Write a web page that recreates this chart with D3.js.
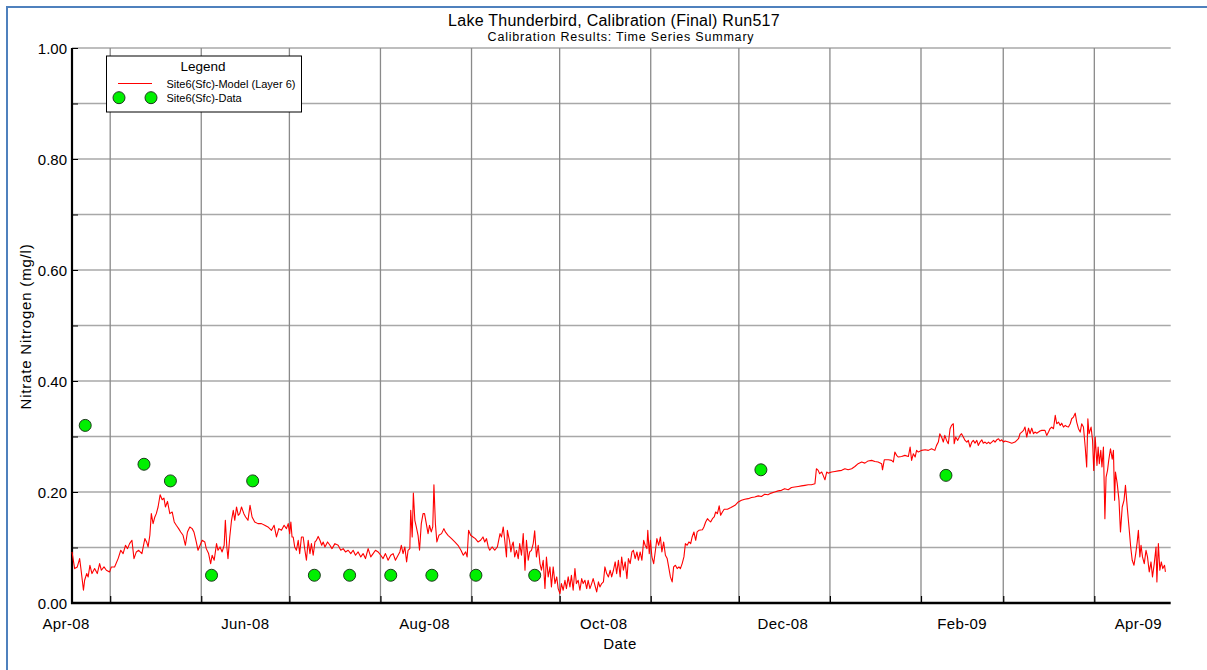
<!DOCTYPE html>
<html>
<head>
<meta charset="utf-8">
<script src="https://cdn.jsdelivr.net/npm/d3@7"></script>
<style>
  html, body { margin: 0; padding: 0; background: #fff; overflow: hidden; }
  svg { display: block; }
  text { font-family: "Liberation Sans", Arial, sans-serif; fill: #000; }
</style>
</head>
<body>
<svg id="chart" width="1207" height="670"></svg>
<script>
// ---- Chart text ----
const chartTitle = "Lake Thunderbird, Calibration (Final) Run517";
const chartSubtitle = "Calibration Results: Time Series Summary";
const xAxisTitle = "Date";
const yAxisTitle = "Nitrate Nitrogen (mg/l)";
const legendTitle = "Legend";
const seriesNames = ["Site6(Sfc)-Model (Layer 6)", "Site6(Sfc)-Data"];

// ---- Axes ----
const dateRange = ["2008-04-18 00:00", "2009-04-27 00:00"];
const xTickLabelDates = ["2008-04-16 00:00", "2008-06-16 00:00", "2008-08-16 00:00", "2008-10-16 00:00",
                         "2008-12-16 00:00", "2009-02-15 00:00", "2009-04-16 00:00"];
const yLabelTicks = [0, 0.2, 0.4, 0.6, 0.8, 1.0];
const yGridTicks = [0.1, 0.2, 0.3, 0.4, 0.5, 0.6, 0.7, 0.8, 0.9, 1.0];
const yDomain = [0, 1];

// ---- Model output: [days since modelStart, nitrate mg/l] ----
const modelStart = "2008-04-18 00:00";
const modelSeries = [
  [0,0.092],[0.9,0.062],[1.8,0.065],[2.6,0.080],[3.1,0.059],[3.9,0.023],[4.3,0.041],[5.0,0.053],
  [5.5,0.047],[6.1,0.068],[6.8,0.053],[7.7,0.062],[8.6,0.053],[9.4,0.071],[10.0,0.059],[10.9,0.065],
  [11.7,0.059],[12.8,0.056],[13.4,0.065],[14.5,0.065],[15.7,0.080],[16.6,0.095],[17.4,0.089],[18.2,0.104],
  [18.9,0.098],[19.6,0.107],[20.4,0.113],[21.1,0.080],[21.9,0.092],[22.7,0.095],[23.8,0.089],[24.8,0.116],
  [25.4,0.110],[25.9,0.101],[26.5,0.122],[27.0,0.161],[27.6,0.143],[28.2,0.155],[28.7,0.161],[29.3,0.173],
  [30.0,0.195],[30.7,0.186],[31.3,0.189],[31.8,0.173],[32.5,0.183],[33.3,0.161],[34.1,0.164],[34.8,0.146],
  [35.5,0.140],[36.3,0.134],[37.0,0.128],[37.8,0.122],[38.6,0.104],[39.3,0.128],[40.1,0.137],[40.9,0.134],
  [41.5,0.128],[42.3,0.110],[42.9,0.095],[43.6,0.104],[44.3,0.113],[45.2,0.110],[45.7,0.098],[46.5,0.089],
  [47.2,0.071],[47.7,0.086],[48.4,0.077],[49.2,0.107],[49.7,0.095],[50.4,0.101],[51.1,0.092],[51.8,0.104],
  [52.2,0.149],[52.7,0.101],[53.1,0.080],[53.7,0.119],[54.3,0.149],[54.9,0.167],[55.4,0.149],[56.0,0.173],
  [56.6,0.158],[57.1,0.161],[57.7,0.173],[58.5,0.161],[59.1,0.155],[59.9,0.149],[60.6,0.176],[61.3,0.155],
  [62.2,0.146],[63.3,0.143],[64.5,0.143],[65.6,0.140],[66.7,0.137],[67.9,0.131],[68.8,0.140],[69.6,0.119],
  [70.4,0.134],[71.3,0.131],[72.2,0.140],[73.0,0.134],[73.6,0.143],[74.1,0.125],[74.5,0.146],[74.9,0.119],
  [75.3,0.119],[75.8,0.101],[76.4,0.095],[77.0,0.113],[77.5,0.089],[78.1,0.119],[78.7,0.119],[79.2,0.098],
  [79.8,0.077],[80.4,0.113],[81.0,0.089],[81.5,0.107],[82.1,0.086],[82.7,0.110],[83.2,0.113],[83.8,0.120],
  [84.4,0.113],[85.0,0.104],[85.5,0.110],[86.1,0.101],[87.0,0.110],[87.8,0.104],[88.5,0.098],[89.5,0.107],
  [90.6,0.104],[91.5,0.095],[92.3,0.098],[93.1,0.092],[94.0,0.095],[94.9,0.089],[95.7,0.095],[96.5,0.086],
  [97.4,0.092],[98.3,0.083],[99.1,0.089],[99.9,0.080],[100.8,0.098],[101.7,0.083],[102.5,0.089],[103.3,0.095],
  [104.2,0.092],[105.1,0.086],[105.9,0.080],[106.7,0.089],[107.6,0.077],[108.5,0.086],[109.3,0.089],[110.1,0.077],
  [111.0,0.086],[111.6,0.092],[112.1,0.104],[112.7,0.089],[113.3,0.101],[113.9,0.074],[114.4,0.095],[115.0,0.098],
  [115.3,0.167],[115.8,0.119],[116.2,0.198],[116.7,0.149],[117.2,0.137],[117.8,0.122],[118.3,0.095],[118.9,0.143],
  [119.5,0.161],[120.0,0.161],[120.6,0.143],[121.2,0.125],[121.7,0.140],[122.3,0.128],[122.8,0.137],[123.2,0.213],
  [123.7,0.143],[124.2,0.110],[124.9,0.122],[125.8,0.125],[126.6,0.134],[127.1,0.128],[128.0,0.122],[129.2,0.116],
  [130.3,0.110],[131.4,0.104],[132.4,0.095],[133.2,0.086],[134.0,0.092],[134.5,0.083],[135.0,0.131],[135.7,0.122],
  [136.5,0.119],[137.3,0.116],[138.2,0.110],[139.1,0.113],[139.9,0.119],[140.5,0.110],[141.1,0.116],[141.7,0.101],
  [142.2,0.095],[143.0,0.101],[143.9,0.095],[144.8,0.101],[145.7,0.125],[146.2,0.119],[146.8,0.137],[147.3,0.113],
  [147.9,0.083],[148.2,0.131],[148.9,0.113],[149.4,0.092],[149.8,0.104],[150.2,0.110],[150.7,0.083],[151.3,0.095],
  [151.9,0.080],[152.4,0.107],[153.0,0.086],[153.6,0.125],[154.2,0.059],[154.7,0.113],[155.3,0.077],[155.8,0.092],
  [156.4,0.095],[157.0,0.107],[157.5,0.130],[158.1,0.083],[158.7,0.104],[159.3,0.071],[159.8,0.059],[160.4,0.077],
  [161.0,0.026],[161.5,0.083],[162.1,0.047],[162.7,0.065],[163.2,0.029],[163.8,0.065],[164.4,0.035],[165.0,0.047],
  [165.5,0.026],[166.1,0.017],[166.6,0.035],[167.2,0.023],[167.8,0.041],[168.3,0.026],[168.9,0.047],[169.5,0.029],
  [170.0,0.050],[170.6,0.023],[171.2,0.062],[171.7,0.035],[172.3,0.041],[172.9,0.023],[173.5,0.044],[174.0,0.035],
  [174.6,0.041],[175.2,0.026],[175.7,0.041],[176.3,0.026],[176.9,0.035],[177.4,0.044],[178.0,0.032],[178.6,0.020],
  [179.2,0.038],[179.7,0.029],[180.3,0.035],[180.9,0.038],[181.4,0.065],[182.0,0.053],[182.6,0.047],[183.2,0.059],
  [183.7,0.047],[184.3,0.059],[184.9,0.074],[185.4,0.053],[186.0,0.077],[186.6,0.047],[187.1,0.083],[187.7,0.059],
  [188.3,0.074],[188.9,0.044],[189.4,0.080],[190.0,0.071],[190.6,0.092],[191.1,0.095],[191.7,0.080],[192.3,0.092],
  [192.8,0.077],[193.4,0.092],[194.0,0.077],[194.6,0.113],[195.1,0.104],[195.7,0.098],[196.0,0.131],[196.5,0.089],
  [196.9,0.113],[197.4,0.083],[198.0,0.071],[198.6,0.095],[199.1,0.116],[199.7,0.104],[200.3,0.119],[200.8,0.092],
  [201.4,0.110],[202.0,0.086],[202.6,0.080],[203.1,0.065],[203.7,0.047],[204.3,0.038],[204.8,0.065],[205.4,0.068],
  [206.0,0.062],[206.6,0.065],[207.1,0.062],[207.7,0.071],[208.3,0.083],[208.8,0.107],[209.4,0.104],[210.0,0.110],
  [210.6,0.107],[211.1,0.119],[211.7,0.128],[212.3,0.113],[212.8,0.128],[213.4,0.131],[214.6,0.132],[215.1,0.137],
  [215.7,0.146],[216.3,0.152],[216.8,0.149],[217.4,0.146],[218.0,0.152],[218.6,0.155],[219.1,0.164],[219.7,0.161],
  [220.3,0.175],[220.8,0.158],[221.4,0.164],[222.0,0.169],[223.1,0.169],[224.3,0.172],[225.7,0.176],[226.8,0.182],
  [227.9,0.185],[229.0,0.187],[230.2,0.188],[231.3,0.190],[232.4,0.191],[233.6,0.193],[234.7,0.192],[235.8,0.196],
  [236.9,0.195],[238.0,0.198],[239.2,0.200],[240.4,0.202],[241.5,0.203],[242.6,0.206],[243.8,0.204],[244.9,0.208],
  [246.0,0.209],[247.2,0.210],[248.3,0.211],[249.5,0.212],[250.6,0.213],[251.7,0.213],[252.9,0.215],[253.4,0.242],
  [254.0,0.239],[254.5,0.233],[255.2,0.236],[255.7,0.230],[256.3,0.222],[256.9,0.236],[257.4,0.234],[258.6,0.236],
  [259.7,0.237],[260.8,0.238],[262.0,0.239],[263.1,0.242],[264.2,0.240],[265.4,0.242],[266.5,0.246],[267.6,0.251],
  [268.8,0.254],[269.9,0.252],[271.0,0.256],[272.2,0.257],[273.3,0.255],[274.4,0.254],[275.6,0.251],[275.9,0.240],
  [276.5,0.258],[277.9,0.258],[279.0,0.257],[279.6,0.254],[280.1,0.272],[280.7,0.266],[281.3,0.263],[282.4,0.264],
  [283.5,0.266],[284.7,0.264],[285.3,0.281],[285.8,0.257],[286.4,0.269],[287.0,0.263],[287.5,0.275],[288.1,0.272],
  [289.2,0.275],[290.4,0.276],[291.5,0.275],[292.6,0.278],[293.7,0.275],[294.3,0.284],[294.9,0.290],[295.4,0.305],
  [296.0,0.299],[296.6,0.290],[297.1,0.302],[297.7,0.293],[298.3,0.287],[298.9,0.314],[299.4,0.320],[300.0,0.323],
  [300.3,0.287],[300.8,0.299],[301.5,0.293],[302.3,0.302],[302.8,0.305],[303.4,0.299],[304.0,0.293],[304.6,0.290],
  [305.1,0.293],[305.7,0.281],[306.3,0.290],[306.8,0.293],[307.4,0.288],[308.0,0.293],[308.5,0.284],[309.1,0.290],
  [309.7,0.294],[310.2,0.288],[310.8,0.290],[311.4,0.287],[312.0,0.290],[312.5,0.287],[313.1,0.290],[313.7,0.293],
  [314.2,0.290],[314.8,0.294],[315.4,0.296],[315.9,0.292],[316.5,0.294],[317.1,0.290],[317.6,0.292],[318.8,0.290],
  [319.9,0.288],[321.0,0.290],[321.6,0.293],[322.2,0.296],[322.7,0.305],[323.3,0.308],[323.9,0.311],[324.4,0.317],
  [325.0,0.299],[325.6,0.315],[326.1,0.305],[326.7,0.315],[327.3,0.305],[327.8,0.308],[328.4,0.306],[329.0,0.308],
  [329.5,0.310],[330.1,0.311],[330.7,0.311],[331.2,0.311],[331.8,0.302],[332.4,0.308],[332.9,0.314],[333.5,0.317],
  [334.1,0.314],[334.7,0.338],[335.2,0.323],[335.8,0.326],[336.4,0.320],[336.9,0.324],[337.5,0.317],[338.1,0.320],
  [338.6,0.318],[339.2,0.317],[339.8,0.323],[340.3,0.332],[340.9,0.335],[341.5,0.342],[342.0,0.326],[342.6,0.314],
  [343.2,0.308],[343.7,0.323],[344.3,0.317],[344.9,0.281],[345.4,0.245],[345.8,0.332],[346.2,0.305],[346.9,0.317],
  [347.4,0.293],[347.8,0.239],[348.3,0.299],[348.9,0.248],[349.3,0.281],[349.7,0.251],[350.2,0.275],[350.6,0.245],
  [351.1,0.281],[351.6,0.152],[352.0,0.227],[352.5,0.239],[352.9,0.257],[353.5,0.278],[354.1,0.259],[354.5,0.275],
  [354.9,0.185],[355.2,0.236],[355.8,0.215],[356.4,0.185],[356.9,0.128],[357.5,0.173],[358.1,0.185],[358.6,0.212],
  [359.2,0.173],[359.8,0.137],[360.4,0.100],[360.9,0.077],[361.5,0.068],[362.1,0.089],[362.6,0.110],[363.0,0.131],
  [363.5,0.083],[363.9,0.104],[364.4,0.083],[365.0,0.071],[365.6,0.095],[366.1,0.083],[366.7,0.056],[367.3,0.074],
  [367.8,0.047],[368.4,0.071],[369.0,0.101],[369.3,0.038],[369.8,0.107],[370.3,0.059],[370.8,0.074],[371.3,0.062],
  [371.9,0.068],[372.2,0.056]
];

// ---- Observed samples (grab samples, midday) ----
const obsDates = ["2008-04-22 12:00", "2008-05-12 12:00", "2008-05-21 12:00", "2008-06-04 12:00",
                  "2008-06-18 12:00", "2008-07-09 12:00", "2008-07-21 12:00", "2008-08-04 12:00",
                  "2008-08-18 12:00", "2008-09-02 12:00", "2008-09-22 12:00", "2008-12-08 12:00",
                  "2009-02-09 12:00"];
const obsValues = [0.32, 0.25, 0.22, 0.05, 0.22, 0.05, 0.05, 0.05, 0.05, 0.05, 0.05, 0.24, 0.23];

// ---- Drawing ----
const svg = d3.select("#chart");
const plot = { left: 72, right: 1170.7, top: 48, bottom: 603 };
const parse = d3.utcParse("%Y-%m-%d %H:%M");
const DAY = 86400000;

const x = d3.scaleUtc().domain(dateRange.map(parse)).range([plot.left, plot.right]);
const y = d3.scaleLinear().domain(yDomain).range([plot.bottom, plot.top]);

// frame around the whole figure
svg.append("rect")
  .attr("x", 7).attr("y", 7).attr("width", 1240).attr("height", 700)
  .attr("fill", "none").attr("stroke", "#4F81BD").attr("stroke-width", 2);

// titles
svg.append("text").attr("x", 614).attr("y", 26).attr("text-anchor", "middle")
  .style("font-size", "16px").style("letter-spacing", "0.25px").text(chartTitle);
svg.append("text").attr("x", 621).attr("y", 41).attr("text-anchor", "middle")
  .style("font-size", "12.5px").style("letter-spacing", "0.8px").text(chartSubtitle);

// gridlines
const monthStarts = d3.utcMonth.range(x.domain()[0], x.domain()[1]);
const grid = svg.append("g");
grid.selectAll("line.h").data(yGridTicks).join("line")
  .attr("x1", plot.left).attr("x2", plot.right)
  .attr("y1", d => y(d)).attr("y2", d => y(d))
  .attr("stroke", "#a8a8a8").attr("stroke-width", 1.6);
grid.selectAll("line.v").data(monthStarts).join("line")
  .attr("x1", d => x(d)).attr("x2", d => x(d))
  .attr("y1", plot.top).attr("y2", plot.bottom)
  .attr("stroke", "#8a8a8a").attr("stroke-width", 1.3);

// y axis: inward ticks every 0.1, labels every 0.2
const yAxis = svg.append("g").attr("transform", `translate(${plot.left},0)`)
  .call(d3.axisLeft(y).tickValues(yGridTicks.concat([0])).tickSize(0).tickFormat(""));
yAxis.select(".domain").remove();
yAxis.selectAll(".tick").append("line").attr("x1", 0).attr("x2", 6).attr("stroke", "#000").attr("stroke-width", 1);
svg.append("g").selectAll("text").data(yLabelTicks).join("text")
  .attr("x", plot.left - 5).attr("y", d => y(d) + 5.5).attr("text-anchor", "end")
  .style("font-size", "15px").text(d => d3.format(".2f")(d));

// x axis: inward ticks at month starts, labels mid-month
const xAxis = svg.append("g").attr("transform", `translate(0,${plot.bottom})`)
  .call(d3.axisBottom(x).tickValues(monthStarts).tickSize(0).tickFormat(""));
xAxis.select(".domain").remove();
xAxis.selectAll(".tick").append("line").attr("y1", 0).attr("y2", -7).attr("stroke", "#000").attr("stroke-width", 1.2);
svg.append("g").selectAll("text").data(xTickLabelDates.map(parse)).join("text")
  .attr("x", d => x(d)).attr("y", 628.5).attr("text-anchor", "middle")
  .style("font-size", "15px").style("letter-spacing", "0.4px").text(d => d3.utcFormat("%b-%y")(d));

// axis lines
svg.append("line").attr("x1", plot.left).attr("x2", plot.left).attr("y1", plot.top).attr("y2", plot.bottom + 1)
  .attr("stroke", "#000").attr("stroke-width", 2.2);
svg.append("line").attr("x1", plot.left - 1).attr("x2", plot.right).attr("y1", plot.bottom).attr("y2", plot.bottom)
  .attr("stroke", "#000").attr("stroke-width", 2.4);

// axis titles
svg.append("text").attr("x", 620).attr("y", 648.5).attr("text-anchor", "middle")
  .style("font-size", "15px").style("letter-spacing", "0.5px").text(xAxisTitle);
svg.append("text").attr("transform", `translate(30.5,${(plot.top + plot.bottom) / 2 + 1}) rotate(-90)`)
  .attr("text-anchor", "middle").style("font-size", "15px").style("letter-spacing", "0.8px").text(yAxisTitle);

// model line
const t0 = parse(modelStart).getTime();
const line = d3.line()
  .x(d => x(new Date(t0 + d[0] * DAY)))
  .y(d => y(d[1]));
svg.append("path").datum(modelSeries)
  .attr("d", line).attr("fill", "none").attr("stroke", "#ff0000").attr("stroke-width", 1.1)
  .attr("stroke-linejoin", "round");

// observed points
svg.append("g").selectAll("circle").data(obsDates.map((d, i) => [parse(d), obsValues[i]])).join("circle")
  .attr("cx", d => x(d[0])).attr("cy", d => y(d[1])).attr("r", 6)
  .attr("fill", "#00f000").attr("stroke", "#1e3a1e").attr("stroke-width", 1);

// legend
const lg = svg.append("g");
lg.append("rect").attr("x", 106.5).attr("y", 56).attr("width", 195).attr("height", 56)
  .attr("fill", "#fff").attr("stroke", "#000").attr("stroke-width", 1);
lg.append("text").attr("x", 203).attr("y", 70.5).attr("text-anchor", "middle")
  .style("font-size", "13.5px").text(legendTitle);
lg.append("line").attr("x1", 118).attr("x2", 152).attr("y1", 83.5).attr("y2", 83.5)
  .attr("stroke", "#ff0000").attr("stroke-width", 1.1);
lg.selectAll("circle").data([119, 151]).join("circle")
  .attr("cx", d => d).attr("cy", 97.7).attr("r", 6)
  .attr("fill", "#00f000").attr("stroke", "#1e3a1e").attr("stroke-width", 1);
lg.selectAll("text.item").data(seriesNames).join("text").attr("class", "item")
  .attr("x", 166.5).attr("y", (d, i) => 87.5 + i * 14)
  .style("font-size", "11px").text(d => d);
</script>
</body>
</html>
